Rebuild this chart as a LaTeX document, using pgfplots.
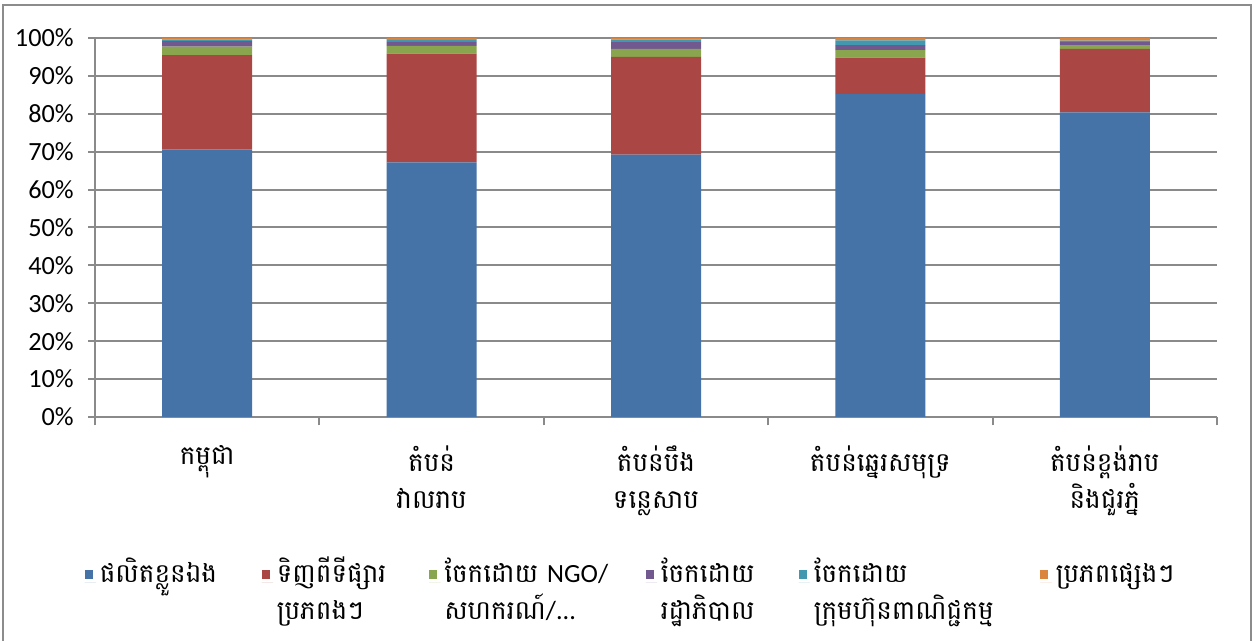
\documentclass[border=0pt]{standalone}
\usepackage{fontspec}
\setmainfont{Carlito}
\newfontfamily\khmer[Script=Khmer]{Battambang}
\usepackage{pgfplots}
\usepackage{pgfplotstable}
\pgfplotsset{compat=1.18}
\definecolor{cblue}{HTML}{4572A7}
\definecolor{cred}{HTML}{AA4643}
\definecolor{cgreen}{HTML}{89A54E}
\definecolor{cpurple}{HTML}{71588F}
\definecolor{ccyan}{HTML}{4198AF}
\definecolor{corange}{HTML}{DB843D}
\definecolor{gridgray}{HTML}{8A8A8A}
\definecolor{framegray}{HTML}{8C8C8C}
\pgfplotstableread{
x blue red green purple cyan orange
0 70.6 24.9 2.2 1.5 0.4 0.4
1 67.2 28.7 2.0 1.1 0.5 0.5
2 69.2 25.8 2.1 1.8 0.7 0.4
3 85.2 9.6 2.0 1.3 1.3 0.6
4 80.4 16.7 1.0 0.9 0.3 0.7
}\datatable
\begin{document}
\begin{tikzpicture}
\path[use as bounding box] (0pt,0pt) rectangle (501.6pt,256.4pt);
\draw[line width=1pt, framegray] (1.2pt,0pt) -- (1.2pt,254.4pt) -- (500.4pt,254.4pt) -- (500.4pt,0pt);
\begin{axis}[
  at={(38pt,89.6pt)}, anchor=south west,
  scale only axis, width=448.8pt, height=151.6pt,
  ybar stacked, bar width=36pt,
  xmin=-0.5, xmax=4.5, ymin=0, ymax=100,
  xtick={0,1,2,3,4},
  xticklabels={{កម្ពុជា},{តំបន់\\វាលរាប},{តំបន់បឹង\\ទន្លេសាប},{តំបន់ឆ្នេរសមុទ្រ},{តំបន់ខ្ពង់រាប\\និងជួរភ្នំ}},
  minor xtick={-0.5,0.5,1.5,2.5,3.5,4.5},
  ytick={0,10,...,100},
  yticklabel={\pgfmathprintnumber{\tick}\%},
  /pgf/number format/assume math mode=true,
  separate axis lines,
  axis x line*=bottom, axis y line*=left,
  axis line style={-, draw=gridgray, line width=0.8pt},
  ymajorgrids, grid style={draw=gridgray, line width=0.8pt},
  tick align=outside,
  major tick length=2.8pt, minor tick length=3.4pt,
  tick style={draw=gridgray, line width=0.8pt},
  major x tick style={draw=none},
  yticklabel style={font=\fontsize{10.5}{12}\selectfont, text=black, xshift=-2.2pt},
  xticklabel style={font=\khmer\fontsize{10.5}{15}\selectfont, align=center, anchor=north, yshift=-5pt},
  legend columns=6,
  legend image code/.code={\path (0pt,0pt) -- (4.6pt,0pt); \fill[#1, draw=none] (0pt,1.3pt) rectangle (3.2pt,4.8pt);},
  legend style={at={(-0.0098,-0.36)}, anchor=north west, draw=none, fill=none,
    inner xsep=0pt, inner ysep=0pt, column sep=0pt,
    font=\khmer\fontsize{10.5}{15}\selectfont,
    cells={anchor=base west}, nodes={inner xsep=1.5pt, inner ysep=1pt}},
]
\addplot[fill=cblue, draw=none] table[x=x, y=blue] {\datatable};
\addplot[fill=cred, draw=none] table[x=x, y=red] {\datatable};
\addplot[fill=cgreen, draw=none] table[x=x, y=green] {\datatable};
\addplot[fill=cpurple, draw=none] table[x=x, y=purple] {\datatable};
\addplot[fill=ccyan, draw=none] table[x=x, y=cyan] {\datatable};
\addplot[fill=corange, draw=none] table[x=x, y=orange] {\datatable};
\legend{
  {\parbox[t]{63.2pt}{ផលិតខ្លួនឯង}},
  {\parbox[t]{59.4pt}{ទិញពីទីផ្សារ\\ប្រភពងៗ}},
  {\parbox[t]{79pt}{ចែកដោយ {\rmfamily NGO/}\\សហករណ៍{\rmfamily /...}}},
  {\parbox[t]{53.6pt}{ចែកដោយ\\រដ្ឋាភិបាល}},
  {\parbox[t]{89.2pt}{ចែកដោយ\\ក្រុមហ៊ុនពាណិជ្ជកម្ម}},
  {\parbox[t]{50pt}{ប្រភពផ្សេងៗ}}
}
\end{axis}
\end{tikzpicture}
\end{document}
